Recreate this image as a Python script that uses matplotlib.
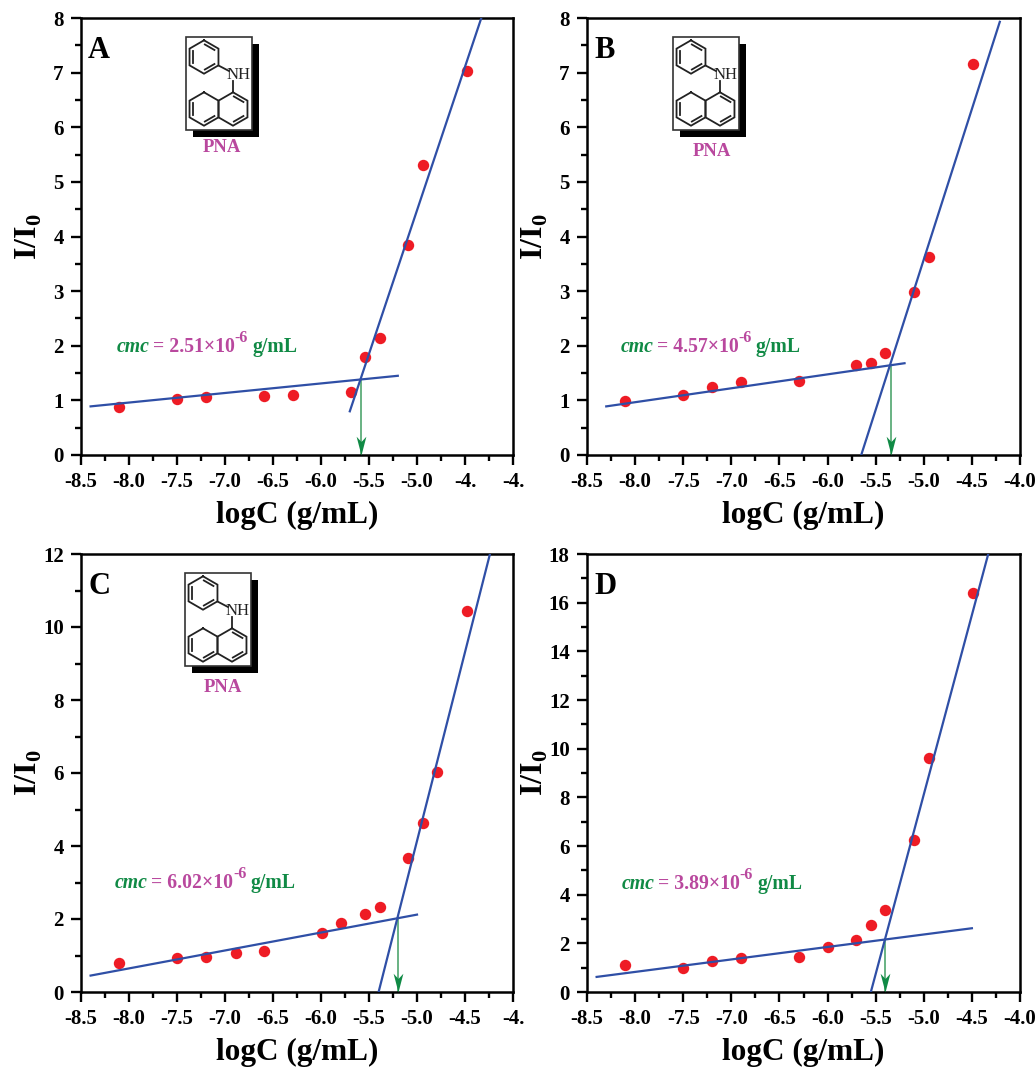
import numpy as np
import matplotlib
matplotlib.use("Agg")
import matplotlib.pyplot as plt
from matplotlib.patches import Rectangle
from matplotlib.path import Path

plt.rcParams['font.family'] = ['Liberation Serif', 'DejaVu Serif']
plt.rcParams['mathtext.fontset'] = 'custom'
plt.rcParams['mathtext.bf'] = 'Liberation Serif:bold'
plt.rcParams['mathtext.rm'] = 'Liberation Serif:bold'

W, H = 1035, 1068

panel_names = ['A', 'B', 'C', 'D']
a_x = [-8.1, -7.5, -7.2, -6.59, -6.29, -5.69, -5.54, -5.39, -5.09, -4.94, -4.48]
a_y = [0.88, 1.02, 1.06, 1.08, 1.09, 1.16, 1.79, 2.15, 3.84, 5.30, 7.03]
b_x = [-8.1, -7.5, -7.2, -6.9, -6.3, -5.7, -5.55, -5.4, -5.1, -4.95, -4.49]
b_y = [0.99, 1.10, 1.24, 1.33, 1.36, 1.64, 1.68, 1.86, 2.98, 3.63, 7.16]
c_x = [-8.1, -7.5, -7.2, -6.89, -6.59, -5.99, -5.79, -5.54, -5.39, -5.09, -4.94, -4.79, -4.48]
c_y = [0.80, 0.94, 0.95, 1.07, 1.12, 1.62, 1.90, 2.14, 2.32, 3.66, 4.62, 6.03, 10.43]
d_x = [-8.1, -7.5, -7.2, -6.9, -6.3, -6.0, -5.7, -5.55, -5.4, -5.1, -4.95, -4.49]
d_y = [1.10, 1.00, 1.27, 1.38, 1.43, 1.84, 2.12, 2.75, 3.36, 6.25, 9.60, 16.40]

a_low = ([-8.4, -5.2], [0.89, 1.45])
a_high = ([-5.7, -4.33], [0.80, 8.0])
a_cmc = (-5.58, 1.38)
b_low = ([-8.3, -5.2], [0.89, 1.68])
b_high = ([-5.65, -4.21], [0.0, 7.93])
b_cmc = (-5.34, 1.63)
c_low = ([-8.4, -5.0], [0.45, 2.12])
c_high = ([-5.4, -4.24], [0.0, 12.0])
c_cmc = (-5.2, 2.0)
d_low = ([-8.4, -4.5], [0.62, 2.62])
d_high = ([-5.55, -4.33], [0.0, 18.0])
d_cmc = (-5.4, 2.15)

x_tick_labels = {
    'A': ['-8.5', '-8.0', '-7.5', '-7.0', '-6.5', '-6.0', '-5.5', '-5.0', '-4.', '-4.'],
    'B': ['-8.5', '-8.0', '-7.5', '-7.0', '-6.5', '-6.0', '-5.5', '-5.0', '-4.5', '-4.0'],
    'C': ['-8.5', '-8.0', '-7.5', '-7.0', '-6.5', '-6.0', '-5.5', '-5.0', '-4.5', '-4.'],
    'D': ['-8.5', '-8.0', '-7.5', '-7.0', '-6.5', '-6.0', '-5.5', '-5.0', '-4.5', '-4.0'],
}
x_ticks = [-8.5, -8.0, -7.5, -7.0, -6.5, -6.0, -5.5, -5.0, -4.5, -4.0]
y_limits = {'A': 8, 'B': 8, 'C': 12, 'D': 18}
y_steps = {'A': 1, 'B': 1, 'C': 2, 'D': 2}
cmc_values = {'A': '2.51', 'B': '4.57', 'C': '6.02', 'D': '3.89'}

data = {
    'A': (a_x, a_y, a_low, a_high, a_cmc),
    'B': (b_x, b_y, b_low, b_high, b_cmc),
    'C': (c_x, c_y, c_low, c_high, c_cmc),
    'D': (d_x, d_y, d_low, d_high, d_cmc),
}

# layout in reference pixels: left, right, top, bottom
frames = {'A': (81, 513, 18, 455), 'B': (587, 1020, 18, 455),
          'C': (81, 513, 554, 992), 'D': (587, 1020, 554, 992)}
cmc_pos = {'A': (117, 352), 'B': (621, 352), 'C': (115, 888), 'D': (622, 889)}
letter_pos = {'A': (88, 58), 'B': (594, 58), 'C': (88, 594), 'D': (594, 594)}
mol_pos = {'A': (186, 37), 'B': (673, 37), 'C': (185, 573)}
pna_pos = {'A': (222, 148), 'B': (712, 151), 'C': (223, 687)}

RED = '#EE1C25'
BLUE = '#2F4FA6'
GREEN = '#108A45'
PURPLE = '#B9489E'

ARROW_HEAD = Path([(0, 0), (-0.26, 1), (0, 0.72), (0.26, 1), (0, 0)], closed=True)

fig = plt.figure(figsize=(W / 100, H / 100), dpi=100)

for n in panel_names:
    l, r, t, b = frames[n]
    ax = fig.add_axes([l / W, 1 - b / H, (r - l) / W, (b - t) / H])
    xs, ys, low, high, cmc = data[n]
    ax.plot(low[0], low[1], color=BLUE, lw=1.6, zorder=3)
    ax.plot(high[0], high[1], color=BLUE, lw=1.6, zorder=3)
    ax.plot(xs, ys, 'o', color=RED, ms=8.2, mew=0, zorder=2)
    ax.plot([cmc[0], cmc[0]], [cmc[1], 0], color='#4FA56E', lw=1.2, zorder=2)
    ax.plot([cmc[0]], [0], marker=ARROW_HEAD, color=GREEN, ms=27, mew=0, zorder=4)
    ax.set_xlim(-8.5, -4.0)
    ax.set_ylim(0, y_limits[n])
    ax.set_xticks(x_ticks)
    ax.set_xticklabels(x_tick_labels[n])
    ax.set_xticks(np.arange(-8.25, -4.0, 0.5), minor=True)
    ax.set_yticks(np.arange(0, y_limits[n] + 1, y_steps[n]))
    ax.set_yticks(np.arange(y_steps[n] / 2, y_limits[n], y_steps[n]), minor=True)
    ax.tick_params(which='major', length=7.5, width=1.7, labelsize=15, pad=5)
    ax.tick_params(which='minor', length=4, width=1.7)
    for lab in ax.get_xticklabels() + ax.get_yticklabels():
        lab.set_fontweight('bold')
    for s in ax.spines.values():
        s.set_linewidth(1.8)
    ax.set_xlabel('logC (g/mL)', fontsize=22.5, fontweight='bold')
    ax.xaxis.set_label_coords(0.5, -60 / (b - t))
    ax.xaxis.label.set_va('center')
    ax.set_ylabel(r'I/I$_{\mathbf{0}}$', fontsize=23, fontweight='bold')
    ax.yaxis.set_label_coords(-52 / (r - l), 0.5)
    ax.yaxis.label.set_va('center')

# pixel overlay for annotations and inset structures
ov = fig.add_axes([0, 0, 1, 1], zorder=10)
ov.set_xlim(0, W)
ov.set_ylim(H, 0)
ov.axis('off')
ov.patch.set_alpha(0)


def run_text(x, y, parts):
    renderer = fig.canvas.get_renderer()
    for s, color, size, style, dy, gap in parts:
        t = ov.text(x, y + dy, s, color=color, fontsize=size, fontstyle=style,
                    fontweight='bold', va='baseline', ha='left')
        x = t.get_window_extent(renderer).x1 + gap


def ring(cx, cy, R, inner):
    ang = np.deg2rad(np.arange(-90, 300, 60))
    px = cx + R * np.cos(ang)
    py = cy + R * np.sin(ang)
    ov.plot(px, py, color='#222222', lw=1.3, solid_joinstyle='miter', zorder=3)
    for i in inner:
        a = px[i:i + 2]
        c = py[i:i + 2]
        k = 0.78
        ax_ = cx + (a - cx) * k
        ay_ = cy + (c - cy) * k
        mx, my = ax_.mean(), ay_.mean()
        ov.plot(mx + (ax_ - mx) * 0.85, my + (ay_ - my) * 0.85, color='#222222', lw=1.3, zorder=3)


def molecule(x0, y0):
    ov.add_patch(Rectangle((x0 + 7, y0 + 7), 66, 93, fc='black', ec='black', lw=0, zorder=1))
    ov.add_patch(Rectangle((x0, y0), 66, 93, fc='white', ec='#333333', lw=1.2, zorder=2))
    R = 16.7
    for cx, cy, inner in [(18, 20, [0, 2, 4]), (18, 72, [2, 4]), (47, 72, [0, 2])]:
        ring(x0 + cx, y0 + cy, R, inner)
    ov.plot([x0 + 32.5, x0 + 43], [y0 + 28.5, y0 + 34], color='#222222', lw=1.3, zorder=3)
    ov.plot([x0 + 47, x0 + 47], [y0 + 44, y0 + 55], color='#222222', lw=1.3, zorder=3)
    ov.text(x0 + 53, y0 + 38, 'NH', fontsize=12, color='#222222', ha='center', va='center',
            fontweight='normal', zorder=5)


for n in panel_names:
    px, py = letter_pos[n]
    ov.text(px, py, n, fontsize=22, fontweight='bold', color='black', va='baseline', ha='left')
    cx, cy = cmc_pos[n]
    run_text(cx, cy, [
        ('cmc', GREEN, 14.2, 'italic', 0, 3),
        ('= ' + cmc_values[n] + '×10', PURPLE, 14.2, 'normal', 0, 0),
        ('-6', PURPLE, 11.5, 'normal', -10, 4),
        ('g/mL', GREEN, 14.2, 'normal', 0, 0),
    ])

for n, (mx, my) in mol_pos.items():
    molecule(mx, my)
    qx, qy = pna_pos[n]
    ov.text(qx, qy, 'PNA', fontsize=13.5, fontweight='bold', color=PURPLE, ha='center', va='center')

ov.set_xlim(0, W)
ov.set_ylim(H, 0)
fig.savefig('out.png', dpi=100)
